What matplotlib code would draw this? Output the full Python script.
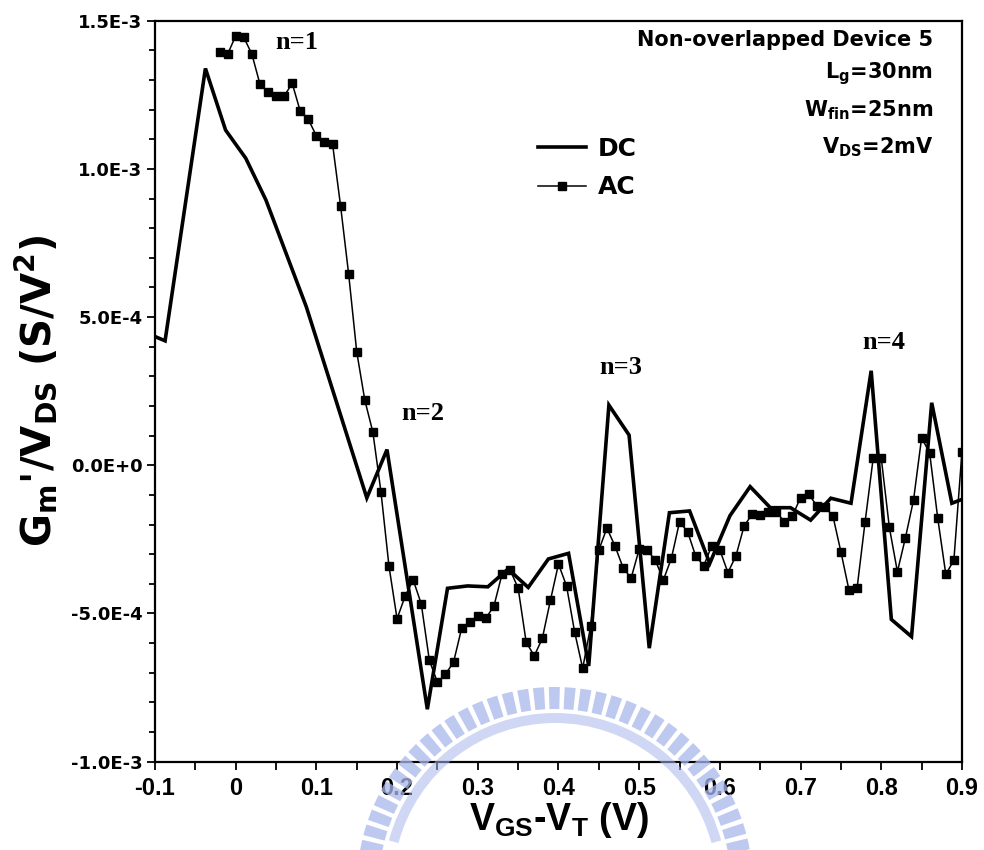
"""Second derivative of drain current vs gate overdrive, DC vs AC extraction."""

import matplotlib

matplotlib.use("Agg")
import matplotlib.pyplot as plt
from matplotlib.patches import Wedge
from matplotlib.ticker import FixedLocator, FixedFormatter, MultipleLocator

# DC extraction (V, 1e-3 S/V^2)
DC_VGS = [-0.1125, -0.0875, -0.0375, -0.0125, 0.0125, 0.0375, 0.0875, 0.1625, 0.1875,
          0.2375, 0.2625, 0.2875, 0.3125, 0.3375, 0.3625, 0.3875, 0.4125, 0.4375,
          0.4625, 0.4875, 0.5125, 0.5375, 0.5625, 0.5875, 0.6125, 0.6375, 0.6625,
          0.6875, 0.7125, 0.7375, 0.7625, 0.7875, 0.8125, 0.8375, 0.8625, 0.8875, 0.9125]
DC_GM = [0.449, 0.420, 1.339, 1.131, 1.036, 0.895, 0.535, -0.110, 0.053,
         -0.823, -0.415, -0.407, -0.410, -0.350, -0.412, -0.316, -0.297, -0.677,
         0.203, 0.102, -0.617, -0.160, -0.154, -0.331, -0.170, -0.072, -0.143,
         -0.143, -0.185, -0.111, -0.128, 0.319, -0.520, -0.578, 0.211, -0.128, -0.102]

# AC extraction, 10 mV steps starting at -20 mV
AC_VGS = [round(-0.02 + 0.01 * i, 2) for i in range(94)]
AC_GM = [1.393, 1.387, 1.449, 1.444, 1.388, 1.287, 1.258, 1.245, 1.245, 1.289,
         1.195, 1.167, 1.112, 1.092, 1.085, 0.875, 0.645, 0.383, 0.220, 0.112,
         -0.089, -0.341, -0.518, -0.441, -0.387, -0.468, -0.658, -0.732, -0.705, -0.664,
         -0.550, -0.529, -0.508, -0.516, -0.475, -0.368, -0.353, -0.414, -0.597, -0.643,
         -0.584, -0.456, -0.333, -0.407, -0.562, -0.685, -0.542, -0.286, -0.212, -0.272,
         -0.345, -0.381, -0.283, -0.286, -0.320, -0.387, -0.313, -0.191, -0.224, -0.306,
         -0.339, -0.271, -0.286, -0.362, -0.305, -0.205, -0.165, -0.169, -0.157, -0.157,
         -0.191, -0.170, -0.109, -0.097, -0.136, -0.141, -0.170, -0.292, -0.421, -0.415,
         -0.190, 0.024, 0.024, -0.209, -0.359, -0.244, -0.117, 0.093, 0.041, -0.179,
         -0.368, -0.320, 0.046, 0.055]

Y_TICKS = [-1.0e-3, -5.0e-4, 0.0, 5.0e-4, 1.0e-3, 1.5e-3]
Y_TICK_LABELS = ["-1.0E-3", "-5.0E-4", "0.0E+0", "5.0E-4", "1.0E-3", "1.5E-3"]
X_TICKS = [-0.1, 0, 0.1, 0.2, 0.3, 0.4, 0.5, 0.6, 0.7, 0.8, 0.9]
X_TICK_LABELS = ["-0.1", "0", "0.1", "0.2", "0.3", "0.4", "0.5", "0.6", "0.7", "0.8", "0.9"]

PEAK_LABELS = ["n=1", "n=2", "n=3", "n=4"]
PEAK_POS = [(0.076, 1.425e-3), (0.232, 0.176e-3), (0.477, 0.329e-3), (0.803, 0.413e-3)]

SANS = ["Liberation Sans", "DejaVu Sans"]
WIDE = ["DejaVu Sans"]
SERIF = ["Liberation Serif", "DejaVu Serif"]


def draw_seal(fig) -> None:
    """Faint gear-ring emblem behind the lower part of the plot."""
    tr = fig.dpi_scale_trans
    cx, cy = 5.55, -0.35  # inches
    color = "#a9b7ec"
    fig.patches.append(Wedge((cx, cy), 1.72, 15, 165, width=0.10,
                             facecolor=color, edgecolor="none", alpha=0.55,
                             transform=tr, zorder=0))
    ang = 12.0
    while ang < 168.5:
        fig.patches.append(Wedge((cx, cy), 1.98, ang - 1.6, ang + 1.6, width=0.22,
                                 facecolor=color, edgecolor="none", alpha=0.75,
                                 transform=tr, zorder=0))
        ang += 4.6


def main() -> None:
    plt.rcParams["font.family"] = SANS
    plt.rcParams["font.weight"] = "bold"

    fig = plt.figure(figsize=(9.84, 8.5), dpi=100)
    draw_seal(fig)
    ax = fig.add_axes([0.1575, 0.1039, 0.8201, 0.8717])
    ax.patch.set_alpha(0)

    scale = 1e-3
    ax.plot(DC_VGS, [g * scale for g in DC_GM], color="black", lw=2.6,
            solid_joinstyle="miter", label="DC", zorder=3)
    ax.plot(AC_VGS, [g * scale for g in AC_GM], color="black", lw=1.1,
            marker="s", markersize=6, label="AC", zorder=4)

    ax.set_xlim(-0.1, 0.9)
    ax.set_ylim(-1.0e-3, 1.5e-3)

    ax.xaxis.set_major_locator(FixedLocator(X_TICKS))
    ax.xaxis.set_major_formatter(FixedFormatter(X_TICK_LABELS))
    ax.xaxis.set_minor_locator(MultipleLocator(0.05))
    ax.yaxis.set_major_locator(FixedLocator(Y_TICKS))
    ax.yaxis.set_major_formatter(FixedFormatter(Y_TICK_LABELS))
    ax.yaxis.set_minor_locator(MultipleLocator(1e-4))

    ax.tick_params(axis="x", which="both", direction="out", length=6, width=1.3, pad=5)
    ax.tick_params(axis="y", which="major", direction="out", length=6, width=1.3, pad=3)
    ax.tick_params(axis="y", which="minor", direction="out", length=4, width=1.3)
    for lab in ax.get_xticklabels():
        lab.set_fontfamily(SANS)
        lab.set_fontsize(17)
        lab.set_fontweight("bold")
    for lab in ax.get_yticklabels():
        lab.set_fontfamily(WIDE)
        lab.set_fontsize(13)
        lab.set_fontweight("bold")
    for spine in ax.spines.values():
        spine.set_linewidth(1.6)

    ax.set_xlabel(r"V$_{\mathregular{GS}}$-V$_{\mathregular{T}}$ (V)",
                  fontsize=27, fontweight="bold", family=SANS, labelpad=0)
    ax.set_ylabel(r"G$_{\mathregular{m}}$'/V$_{\mathregular{DS}}$ (S/V$^{\mathregular{2}}$)",
                  fontsize=29, fontweight="bold", family=WIDE, labelpad=8)

    for text, (x, y) in zip(PEAK_LABELS, PEAK_POS):
        ax.text(x, y, text, ha="center", va="center", fontsize=19,
                fontweight="bold", family=SERIF)

    notes = [
        ("Non-overlapped Device 5", 40),
        (r"L$_{\mathregular{g}}$=30nm", 74),
        (r"W$_{\mathregular{fin}}$=25nm", 110),
        (r"V$_{\mathregular{DS}}$=2mV", 147),
    ]
    for text, ypix in notes:
        ax.text(933 / 984, 1 - ypix / 850, text, transform=fig.transFigure,
                ha="right", va="center", fontsize=15, fontweight="bold", family=WIDE)

    ax.legend(loc="center left", bbox_to_anchor=(538 / 984, 1 - 168 / 850),
              bbox_transform=fig.transFigure, frameon=False, borderpad=0,
              borderaxespad=0, handlelength=1.9, handletextpad=0.5, labelspacing=0.6,
              prop={"family": WIDE, "weight": "bold", "size": 18})

    fig.savefig("out.png", dpi=100)
    plt.close(fig)


if __name__ == "__main__":
    main()
